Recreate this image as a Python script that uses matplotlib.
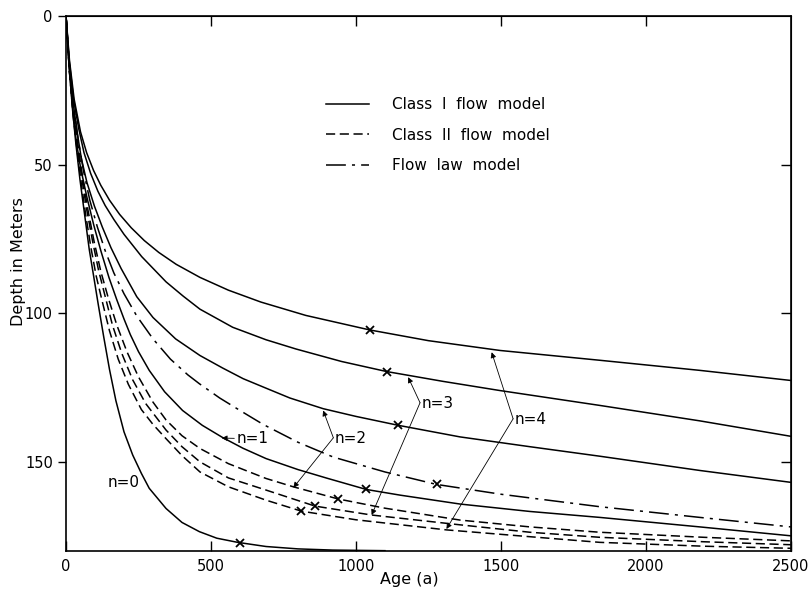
import matplotlib
matplotlib.use("Agg")
import matplotlib.pyplot as plt
from matplotlib.lines import Line2D

# Class I flow model (solid), n = 0..4
age_c1_n0 = [0, 10, 22, 34, 48, 63, 80, 96, 111, 130, 150, 172, 200, 230, 260, 287, 345, 400, 460, 520, 592, 690, 800, 920, 1100]
depth_c1_n0 = [0, 16, 31, 43, 55, 66, 78.5, 88, 97, 108, 119, 129.5, 140, 147.8, 154, 159, 165.8, 170.5, 173.6, 175.8, 177.2, 178.6, 179.4, 179.8, 180]

age_c1_n1 = [0, 10, 22, 35, 50, 72, 96, 120, 148, 175, 200, 222, 250, 287, 340, 402, 470, 540, 610, 690, 800, 900, 1036, 1152, 1359, 1600, 1841, 2186, 2500]
depth_c1_n1 = [0, 16, 30, 42, 51, 61, 70.5, 79, 88, 95.5, 102, 107.3, 113, 119.3, 126.5, 132.8, 137.8, 141.9, 145.5, 149, 152.7, 155.6, 159.4, 161.3, 164.3, 166.8, 168.8, 172, 175]

age_c1_n2 = [0, 10, 23, 38, 53, 72, 98, 125, 155, 190, 244, 300, 378, 462, 540, 611, 690, 772, 887, 1000, 1146, 1359, 1600, 1841, 2186, 2500]
depth_c1_n2 = [0, 15, 28, 39, 48, 56, 64, 71, 78, 85, 94.5, 101.5, 108.7, 114.3, 118.5, 122.1, 125.3, 128.6, 132.2, 134.8, 137.8, 141.7, 145, 148.2, 153, 157]

age_c1_n3 = [0, 11, 26, 44, 62, 85, 110, 135, 165, 200, 261, 345, 404, 462, 575, 690, 793, 950, 1106, 1300, 1497, 1841, 2186, 2500]
depth_c1_n3 = [0, 15, 28, 38, 46, 53, 59, 63.8, 68.5, 73.5, 81, 89.5, 94.3, 98.7, 104.8, 109, 112.1, 116.3, 119.7, 123, 126.1, 131.1, 136.3, 141.5]

age_c1_n4 = [0, 12, 28, 50, 71, 95, 120, 150, 185, 225, 270, 320, 380, 462, 560, 672, 827, 1048, 1250, 1497, 1841, 2186, 2500]
depth_c1_n4 = [0, 15, 28, 39, 46, 52, 57, 62, 66.8, 71.3, 75.6, 79.6, 83.6, 88, 92.3, 96.3, 100.8, 105.7, 109.3, 112.6, 115.9, 119.3, 122.7]

# Class II flow model (dashed), n = 2, 3, 4
age_c2_n2 = [0, 13, 27, 42, 58, 76, 97, 120, 146, 175, 210, 250, 300, 345, 400, 462, 560, 690, 784, 939, 1100, 1359, 1600, 1841, 2200, 2500]
depth_c2_n2 = [0, 19, 33, 44, 55, 65.5, 76, 86, 95, 104, 113, 121.5, 130, 136, 141.3, 145.6, 150.7, 155.7, 158.5, 162.6, 165.7, 169.7, 172, 173.8, 175.5, 176.7]

age_c2_n3 = [0, 12, 26, 40, 55, 72, 92, 112, 134, 160, 192, 230, 275, 345, 400, 462, 560, 690, 859, 1054, 1359, 1600, 1841, 2200, 2500]
depth_c2_n3 = [0, 19, 33, 44, 55, 65.5, 76, 85.5, 94, 104, 113.5, 122.5, 130.5, 139.4, 145, 150.1, 155.5, 159.6, 165, 168, 171.3, 173.8, 175.5, 177, 178]

age_c2_n4 = [0, 12, 25, 38, 52, 68, 86, 104, 123, 150, 180, 215, 260, 300, 345, 400, 462, 560, 690, 812, 1000, 1312, 1600, 1841, 2200, 2500]
depth_c2_n4 = [0, 19, 34, 45, 56, 67, 78, 87.5, 95.3, 106, 115.5, 124, 132.5, 137.5, 142.3, 148, 153.5, 158.5, 163, 166.7, 169.6, 173, 175.3, 177.2, 178.5, 179.2]

# Flow law model (dash-dot)
age_flow = [0, 11, 25, 41, 60, 82, 108, 135, 165, 200, 244, 300, 360, 420, 460, 530, 600, 680, 800, 922, 1100, 1278, 1500, 1841, 2186, 2500]
depth_flow = [0, 16, 29, 41, 52, 62, 71, 79, 86.5, 93.5, 101, 108.7, 115.5, 120.8, 123.8, 128.6, 132.8, 137.5, 143.5, 148.5, 153.5, 157.7, 161, 165.2, 168.8, 172]

# x marks on the curves
mark_age = [600, 1036, 1146, 1106, 1048, 939, 859, 812, 1278]
mark_depth = [177.3, 159.4, 137.8, 119.7, 105.7, 162.6, 165, 166.7, 157.7]

legend_labels = ["Class  I  flow  model", "Class  II  flow  model", "Flow  law  model"]

fig = plt.figure(figsize=(8.12, 5.95), dpi=100)
ax = fig.add_axes([0.0813, 0.0745, 0.8927, 0.8986])

lw = 1.1
solid = dict(color="black", lw=lw, ls="-")
dashed = dict(color="black", lw=lw, ls=(0, (6, 3)))
dashdot = dict(color="black", lw=lw, ls=(0, (13, 4, 2, 4)))

for a, d in [(age_c1_n0, depth_c1_n0), (age_c1_n1, depth_c1_n1), (age_c1_n2, depth_c1_n2),
             (age_c1_n3, depth_c1_n3), (age_c1_n4, depth_c1_n4)]:
    ax.plot(a, d, **solid)
for a, d in [(age_c2_n2, depth_c2_n2), (age_c2_n3, depth_c2_n3), (age_c2_n4, depth_c2_n4)]:
    ax.plot(a, d, **dashed)
ax.plot(age_flow, depth_flow, **dashdot)
ax.plot(mark_age, mark_depth, ls="none", marker="x", ms=6, mew=1.3, color="black")

# labels with arrows
arrow = dict(arrowstyle="-|>", color="black", lw=0.6, mutation_scale=8, shrinkA=0, shrinkB=0)
fs = 11
ax.text(200, 157, "n=0", fontsize=fs, ha="center", va="center")
ax.annotate("n=1", xy=(537, 142.1), xytext=(590, 142.3), fontsize=fs, ha="left", va="center",
            arrowprops=arrow)
for tip in [(887, 132.8), (784, 158.8)]:
    ax.annotate("", xy=tip, xytext=(922, 142), arrowprops=arrow)
ax.text(926, 142.3, "n=2", fontsize=fs, ha="left", va="center")
for tip in [(1180, 121.6), (1054, 168)]:
    ax.annotate("", xy=tip, xytext=(1221, 130.2), arrowprops=arrow)
ax.text(1225, 130.5, "n=3", fontsize=fs, ha="left", va="center")
for tip in [(1468, 113.2), (1312, 172.7)]:
    ax.annotate("", xy=tip, xytext=(1542, 135.6), arrowprops=arrow)
ax.text(1546, 136, "n=4", fontsize=fs, ha="left", va="center")

handles = [Line2D([], [], **solid), Line2D([], [], **dashed), Line2D([], [], **dashdot)]
ax.legend(handles, legend_labels, loc="upper left", bbox_to_anchor=(0.348, 0.862), frameon=False,
          fontsize=fs, handlelength=2.8, handletextpad=1.5, labelspacing=1.0, borderpad=0)

ax.set_xlim(0, 2500)
ax.set_ylim(180, 0)
ax.set_xticks([0, 500, 1000, 1500, 2000, 2500])
ax.set_yticks([0, 50, 100, 150])
ax.tick_params(axis="x", direction="in", length=7, width=1, labelsize=10.5, pad=6)
ax.tick_params(axis="y", direction="out", length=6, width=1, labelsize=10.5)
for s in ax.spines.values():
    s.set_linewidth(1.2)

top = ax.secondary_xaxis("top")
top.set_xticks([500, 1000, 1500, 2000])
top.tick_params(direction="in", length=7, width=1, labeltop=False)
right = ax.secondary_yaxis("right")
right.set_yticks([50, 100, 150])
right.tick_params(direction="in", length=7, width=1, labelright=False)

ax.set_xlabel("Age (a)", fontsize=11.5)
ax.set_ylabel("Depth in Meters", fontsize=11.5)
ax.xaxis.set_label_coords(0.474, -0.04)
ax.yaxis.set_label_coords(-0.055, 0.54)

fig.savefig("out.png", dpi=100)
